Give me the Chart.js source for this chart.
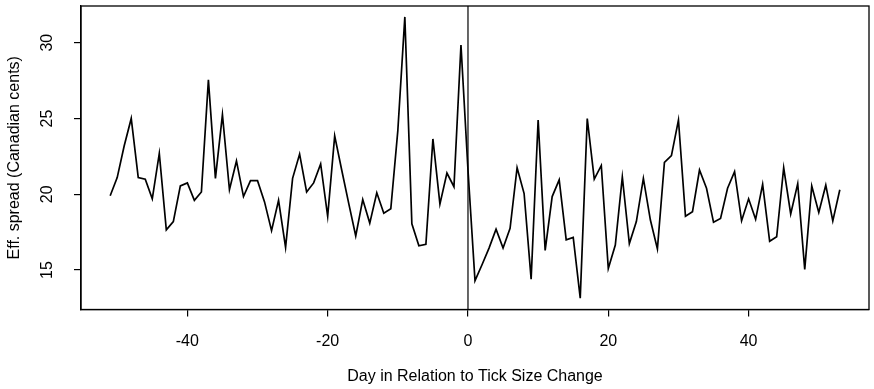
<!DOCTYPE html>
<html>
<head>
<meta charset="utf-8">
<script src="https://cdn.jsdelivr.net/npm/chart.js@4.4.1/dist/chart.umd.min.js"></script>
<style>
  html, body { margin: 0; padding: 0; background: #fff; }
  #spreadChart { display: block; }
</style>
</head>
<body>
<canvas id="spreadChart" width="874" height="389"></canvas>
<script>
// Day relative to the tick size change
const days = [
  -51, -50, -49, -48, -47, -46, -45, -44, -43, -42, -41, -40, -39, -38, -37, -36, -35, -34,
  -33, -32, -31, -30, -29, -28, -27, -26, -25, -24, -23, -22, -21, -20, -19, -18, -17, -16,
  -15, -14, -13, -12, -11, -10, -9, -8, -7, -6, -5, -4, -3, -2, -1, 0,
  1, 2, 3, 4, 5, 6, 7, 8, 9, 10, 11, 12, 13, 14, 15, 16, 17, 18,
  19, 20, 21, 22, 23, 24, 25, 26, 27, 28, 29, 30, 31, 32, 33, 34, 35, 36,
  37, 38, 39, 40, 41, 42, 43, 44, 45, 46, 47, 48, 49, 50, 51, 52, 53
];

// Effective spread, Canadian cents
const spread = [
  19.9, 21.1, 23.2, 25.0, 21.1, 21.0, 19.7, 22.7, 17.65, 18.2, 20.55, 20.75, 19.6, 20.15, 27.55, 21.05, 25.25, 20.3,
  22.2, 19.85, 20.9, 20.9, 19.5, 17.6, 19.6, 16.5, 21.05, 22.65, 20.15, 20.75, 22.0, 18.55, 23.85, 21.6, 19.4, 17.25,
  19.65, 18.1, 20.1, 18.75, 19.05, 24.2, 31.7, 18.05, 16.6, 16.7, 23.65, 19.35, 21.4, 20.5, 29.85, 21.6,
  14.3, 15.35, 16.45, 17.7, 16.45, 17.75, 21.75, 20.05, 14.4, 24.9, 16.3, 19.85, 20.95, 17.0, 17.15, 13.15, 25.0, 21.0,
  21.9, 15.1, 16.65, 21.15, 16.75, 18.2, 21.05, 18.3, 16.4, 22.1, 22.55, 24.9, 18.55, 18.85, 21.6, 20.4, 18.15, 18.4,
  20.4, 21.5, 18.25, 19.7, 18.35, 20.65, 16.9, 17.2, 21.75, 18.7, 20.7, 15.05, 20.55, 18.8, 20.6, 18.25, 20.3
];

const xTicks = [-40, -20, 0, 20, 40];
const yTicks = [15, 20, 25, 30];

const points = days.map((d, i) => ({ x: d, y: spread[i] }));
const fontFamily = "'Liberation Sans', Arial, Helvetica, sans-serif";

// box around the plot + vertical line at day 0
const boxPlugin = {
  id: "boxPlugin",
  afterDatasetsDraw(chart) {
    const { ctx, chartArea, scales } = chart;
    ctx.save();
    ctx.strokeStyle = "#000";
    ctx.lineWidth = 1.3;
    ctx.strokeRect(chartArea.left, chartArea.top, chartArea.right - chartArea.left, chartArea.bottom - chartArea.top);
    const x0 = scales.x.getPixelForValue(0);
    ctx.lineWidth = 1.2;
    ctx.beginPath();
    ctx.moveTo(x0, chartArea.top);
    ctx.lineTo(x0, chartArea.bottom);
    ctx.stroke();
    ctx.restore();
  },
};

new Chart(document.getElementById("spreadChart"), {
  type: "line",
  data: {
    datasets: [
      {
        data: points,
        borderColor: "#000",
        borderWidth: 1.7,
        pointRadius: 0,
        tension: 0,
        fill: false,
      },
    ],
  },
  options: {
    responsive: false,
    animation: false,
    layout: { padding: { top: 6, right: 5, left: 0, bottom: 0 } },
    plugins: { legend: { display: false }, tooltip: { enabled: false } },
    scales: {
      x: {
        type: "linear",
        min: -55.16,
        max: 57.16,
        afterBuildTicks: (scale) => { scale.ticks = xTicks.map((v) => ({ value: v })); },
        afterFit: (scale) => {
          scale.height = 79.5;
          scale.paddingLeft = 0;
          scale.paddingRight = 0;
        },
        grid: { drawOnChartArea: false, drawTicks: true, tickLength: 7, color: "#000", lineWidth: 1.2 },
        border: { display: true, color: "#000", width: 1.3 },
        ticks: { color: "#000", padding: 15, maxRotation: 0, font: { family: fontFamily, size: 16 } },
        title: {
          display: true,
          text: "Day in Relation to Tick Size Change",
          color: "#000",
          padding: { top: 0, bottom: 3 },
          font: { family: fontFamily, size: 16 },
        },
      },
      y: {
        type: "linear",
        min: 12.4,
        max: 32.42,
        afterBuildTicks: (scale) => { scale.ticks = yTicks.map((v) => ({ value: v })); },
        afterFit: (scale) => {
          scale.width = 81;
          scale.paddingTop = 0;
          scale.paddingBottom = 0;
        },
        grid: { drawOnChartArea: false, drawTicks: true, tickLength: 7, color: "#000", lineWidth: 1.2 },
        border: { display: true, color: "#000", width: 1.3 },
        ticks: {
          color: "#000",
          padding: 18,
          minRotation: 90,
          maxRotation: 90,
          crossAlign: "center",
          font: { family: fontFamily, size: 16 },
        },
        title: {
          display: true,
          text: "Eff. spread (Canadian cents)",
          color: "#000",
          padding: { top: 5, bottom: 0 },
          font: { family: fontFamily, size: 16 },
        },
      },
    },
  },
  plugins: [boxPlugin],
});
</script>
</body>
</html>
